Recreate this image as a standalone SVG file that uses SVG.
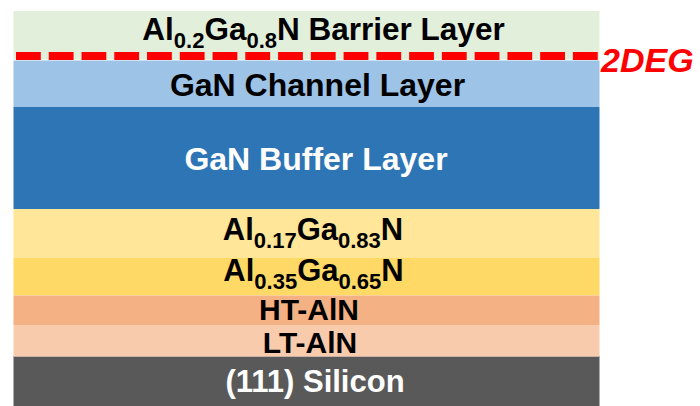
<svg xmlns="http://www.w3.org/2000/svg" width="700" height="406" viewBox="0 0 700 406">
<style>
.lbl{font-family:"Liberation Sans",Arial,sans-serif;font-weight:bold;text-anchor:middle;fill:#000}
.w{fill:#fff}
.sub{font-size:22px}
</style>
<rect width="700" height="406" fill="#fff"/>
<g id="barrier">
<rect x="13.5" y="11" width="586" height="48.5" fill="#e2efda"/>
<text class="lbl" x="323.5" y="39.5" font-size="31.5">Al<tspan class="sub" dy="8">0.2</tspan><tspan dy="-8">Ga</tspan><tspan class="sub" dy="8">0.8</tspan><tspan dy="-8">N Barrier Layer</tspan></text>
</g>
<g id="channel">
<rect x="13.5" y="60.5" width="586" height="46.5" fill="#9dc3e6"/>
<text class="lbl" x="317.5" y="96" font-size="32">GaN Channel Layer</text>
</g>
<g id="buffer">
<rect x="13.5" y="107" width="586" height="102" fill="#2e75b6"/>
<text class="lbl w" x="316" y="170" font-size="32">GaN Buffer Layer</text>
</g>
<g id="algan017">
<rect x="13.5" y="209" width="586" height="49" fill="#ffe699"/>
<text class="lbl" x="313" y="239.5" font-size="31">Al<tspan class="sub" dy="8">0.17</tspan><tspan dy="-8">Ga</tspan><tspan class="sub" dy="8">0.83</tspan><tspan dy="-8">N</tspan></text>
</g>
<g id="algan035">
<rect x="13.5" y="258" width="586" height="37.5" fill="#ffd966"/>
<text class="lbl" x="313.5" y="281" font-size="31">Al<tspan class="sub" dy="8">0.35</tspan><tspan dy="-8">Ga</tspan><tspan class="sub" dy="8">0.65</tspan><tspan dy="-8">N</tspan></text>
</g>
<g id="ht-aln">
<rect x="13.5" y="295.5" width="586" height="29.5" fill="#f4b183"/>
<text class="lbl" x="309" y="320" font-size="30">HT-AlN</text>
</g>
<g id="lt-aln">
<rect x="13.5" y="325" width="586" height="31" fill="#f8cbad"/>
<text class="lbl" x="310" y="353" font-size="30">LT-AlN</text>
</g>
<g id="silicon">
<rect x="13.5" y="356" width="586" height="50" fill="#595959"/>
<line x1="13.5" y1="356.5" x2="599.5" y2="356.5" stroke="#c9b1a6" stroke-width="1"/>
<text class="lbl w" x="315" y="392" font-size="31">(111) Silicon</text>
</g>
<g id="connectors">
<line x1="16" y1="56" x2="599" y2="56" stroke="#ff0000" stroke-width="8" stroke-dasharray="24.8 7.96"/>
</g>
<g id="label-2deg">
<text x="601" y="72" font-family="'Liberation Sans',Arial,sans-serif" font-weight="bold" font-style="italic" font-size="34" fill="#ff0000">2DEG</text>
</g>
</svg>
